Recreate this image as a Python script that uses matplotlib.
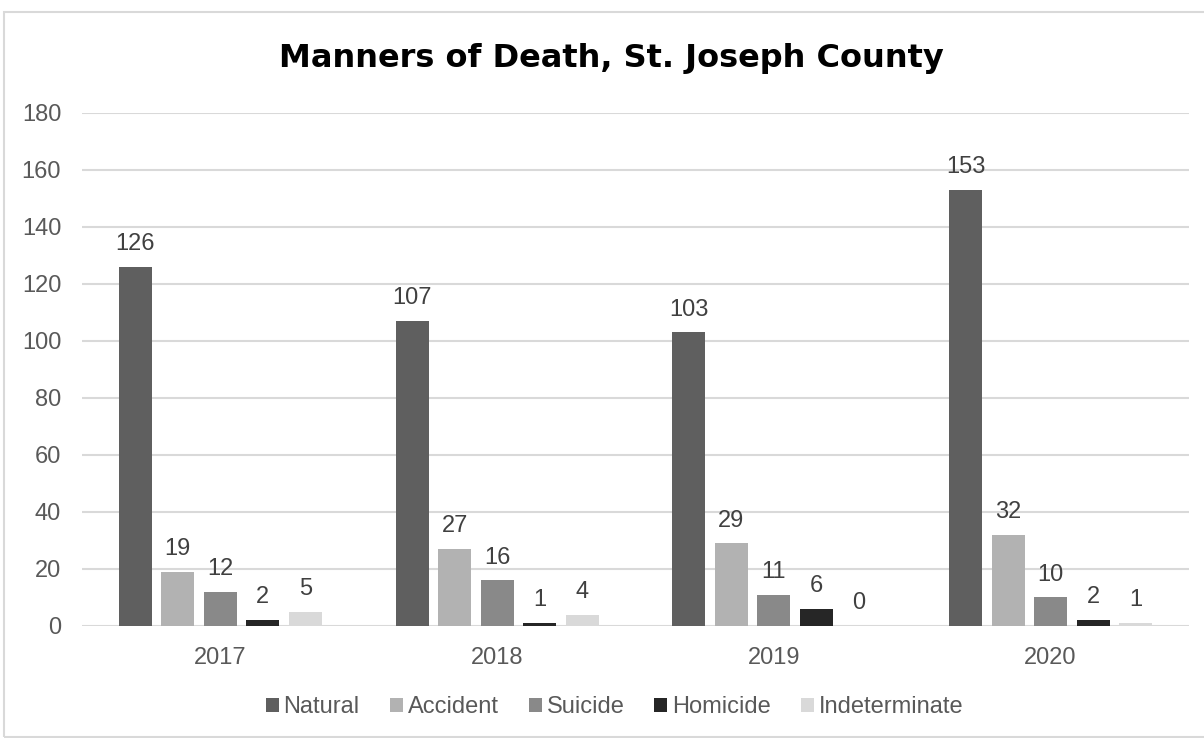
import matplotlib
matplotlib.use("Agg")
import matplotlib.pyplot as plt
import numpy as np
from matplotlib.patches import Rectangle

years = ["2017", "2018", "2019", "2020"]
series = ["Natural", "Accident", "Suicide", "Homicide", "Indeterminate"]
natural = [126, 107, 103, 153]
accident = [19, 27, 29, 32]
suicide = [12, 16, 11, 10]
homicide = [2, 1, 6, 2]
indeterminate = [5, 4, 0, 1]
values = [natural, accident, suicide, homicide, indeterminate]
colors = ["#5F5F5F", "#B2B2B2", "#898989", "#262626", "#D9D9D9"]
yticks = list(range(0, 181, 20))

plt.rcParams['font.family'] = ['Liberation Sans', 'DejaVu Sans']

fig = plt.figure(figsize=(12.04, 7.38), dpi=100)
ax = fig.add_axes([0.0681, 0.1518, 0.9194, 0.6951])

x = np.arange(len(years))
step = 0.1536
width = 0.119
for i, (name, vals, c) in enumerate(zip(series, values, colors)):
    pos = x + (i - 2) * step
    ax.bar(pos, vals, width, color=c, label=name, zorder=3)
    for xp, v in zip(pos, vals):
        ax.annotate(str(v), (xp, v), xytext=(0, 8.5), textcoords='offset points',
                    ha='center', va='bottom', fontsize=17, color='#404040', zorder=4)

ax.set_xlim(-0.5, 3.5)
ax.set_ylim(0, 180)
ax.set_yticks(yticks)
ax.set_yticklabels([str(t) for t in yticks])
ax.set_xticks(x)
ax.set_xticklabels(years)
ax.tick_params(axis='both', length=0, labelsize=17, labelcolor='#595959')
ax.tick_params(axis='y', pad=15)
ax.tick_params(axis='x', pad=15)
ax.grid(axis='y', color='#D9D9D9', linewidth=1.5, zorder=0)
for s in ax.spines.values():
    s.set_visible(False)

fig.text(0.5075, 1 - 67 / 738, "Manners of Death, St. Joseph County", ha='center',
         va='baseline', fontsize=23, fontweight='bold', color='#000000',
         family='DejaVu Sans')

fig.legend(loc='center', bbox_to_anchor=(0.5105, 0.042), ncol=5, frameon=False,
           fontsize=17, handlelength=0.55, handleheight=0.55, handletextpad=0.21,
           columnspacing=1.27, labelcolor='#595959')

fig.patches.append(Rectangle((4 / 1204, 1 / 738), 1.2, 1 - 13 / 738,
                             transform=fig.transFigure, fill=False,
                             edgecolor='#D9D9D9', linewidth=1.5))

fig.savefig("out.png", dpi=100)
